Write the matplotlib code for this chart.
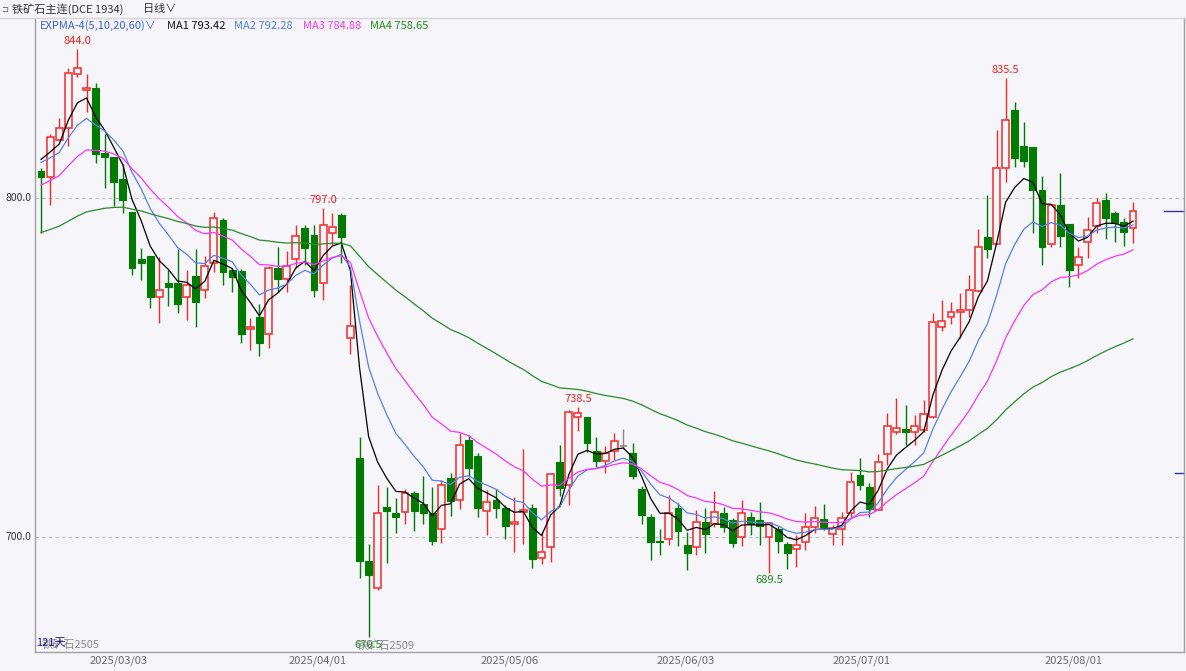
import numpy as np
import matplotlib
matplotlib.use("Agg")
import matplotlib.pyplot as plt

plt.rcParams['font.family'] = ['Noto Sans CJK SC', 'DejaVu Sans']

# daily bars, oldest first
opens = [808.0, 806.3, 817.1, 820.6, 836.5, 831.9, 832.4, 813.4, 812.2, 805.5,
         796.0, 782.0, 782.9, 770.7, 774.8, 774.8, 770.9, 777.0, 772.9, 780.9,
         793.5, 778.8, 778.6, 761.5, 765.0, 759.9, 779.3, 776.0, 781.9, 791.1,
         789.1, 774.8, 789.8, 795.0, 758.6, 723.4, 692.9, 684.9, 708.8, 707.2,
         707.5, 712.9, 709.9, 707.0, 702.3, 717.3, 710.9, 728.6, 723.9, 707.8,
         710.9, 708.6, 703.8, 707.5, 708.7, 693.7, 697.0, 722.0, 715.3, 735.5,
         735.5, 725.4, 722.4, 725.4, 727.0, 724.9, 714.1, 706.0, 698.9, 699.4,
         708.5, 697.8, 697.1, 704.5, 703.8, 707.0, 705.0, 700.0, 705.8, 705.0,
         700.0, 702.3, 697.9, 696.5, 698.6, 702.9, 705.3, 700.9, 702.3, 707.0,
         718.3, 714.8, 708.0, 724.5, 730.9, 731.8, 730.9, 731.6, 735.5, 761.9,
         765.0, 766.3, 767.0, 772.7, 788.6, 786.4, 808.8, 826.0, 815.3, 815.0,
         802.4, 786.4, 797.9, 792.3, 780.1, 786.9, 791.8, 799.4, 795.5, 793.0,
         791.1]
highs = [808.8, 818.9, 823.5, 838.3, 844.0, 836.5, 834.0, 818.9, 812.2, 810.0,
         796.0, 785.2, 782.9, 782.5, 778.8, 784.9, 778.8, 784.9, 782.9, 796.0,
         794.0, 779.3, 779.0, 764.5, 768.7, 780.0, 785.5, 784.5, 792.0, 792.0,
         792.0, 797.0, 795.7, 795.5, 774.3, 729.4, 697.9, 715.5, 714.8, 711.4,
         714.1, 713.7, 718.0, 714.7, 716.8, 718.8, 730.8, 730.1, 724.7, 713.9,
         714.1, 709.4, 711.9, 725.9, 709.9, 701.6, 718.8, 727.1, 737.5, 738.5,
         735.5, 729.4, 726.8, 730.8, 731.9, 727.8, 715.0, 706.8, 702.3, 712.4,
         710.0, 701.6, 708.0, 708.5, 713.6, 708.8, 705.5, 710.9, 707.5, 710.4,
         704.2, 703.2, 698.5, 700.6, 707.0, 709.2, 709.9, 703.7, 707.5, 719.3,
         723.2, 716.0, 724.5, 736.5, 740.9, 738.9, 736.0, 740.4, 766.0, 770.0,
         769.4, 771.9, 777.3, 790.9, 800.9, 820.1, 835.5, 828.4, 822.5, 815.0,
         806.5, 797.9, 807.3, 792.3, 785.6, 794.5, 800.1, 801.6, 796.3, 794.0,
         798.9]
lows = [789.8, 797.9, 817.1, 815.3, 835.6, 825.5, 810.4, 802.9, 797.7, 795.5,
        777.3, 775.8, 767.5, 763.0, 768.1, 766.0, 764.0, 762.0, 770.4, 778.3,
        774.4, 772.4, 757.3, 755.2, 753.4, 755.7, 772.4, 772.4, 779.3, 780.2,
        770.7, 769.9, 786.1, 780.9, 754.0, 688.0, 670.5, 684.4, 692.4, 701.3,
        703.8, 701.9, 704.0, 697.8, 698.3, 706.2, 708.2, 717.8, 705.8, 700.6,
        705.5, 699.3, 695.7, 698.1, 690.8, 692.0, 692.7, 712.1, 709.6, 731.4,
        725.2, 720.6, 719.0, 722.7, 725.9, 717.0, 703.8, 693.2, 694.7, 697.6,
        697.3, 690.3, 694.7, 695.2, 702.9, 701.6, 697.0, 697.3, 700.6, 697.6,
        689.5, 695.4, 690.5, 691.2, 696.3, 701.1, 702.1, 697.6, 697.6, 705.5,
        713.9, 706.0, 708.0, 721.2, 730.5, 727.1, 727.3, 731.0, 735.0, 760.8,
        762.8, 758.6, 765.0, 772.4, 782.2, 786.4, 804.8, 809.2, 809.1, 789.8,
        780.2, 785.6, 785.6, 773.8, 776.3, 782.2, 789.6, 787.8, 787.1, 785.8,
        786.8]
closes = [806.3, 817.9, 820.6, 837.0, 838.4, 832.4, 812.9, 812.0, 804.8, 799.4,
          779.3, 780.9, 770.7, 772.9, 773.8, 768.7, 774.4, 769.4, 779.9, 794.0,
          778.3, 776.6, 759.9, 762.1, 757.3, 779.3, 776.0, 779.9, 788.9, 785.3,
          772.9, 792.0, 791.4, 788.6, 762.2, 692.9, 688.8, 707.0, 707.8, 705.8,
          712.9, 707.8, 707.0, 698.9, 715.5, 710.7, 727.3, 720.4, 708.6, 710.4,
          708.7, 703.3, 704.3, 708.0, 693.4, 695.7, 718.5, 714.4, 737.0, 736.5,
          727.8, 722.4, 724.9, 728.4, 727.0, 718.0, 706.5, 698.4, 698.4, 707.0,
          701.9, 695.4, 704.5, 700.9, 707.5, 702.9, 698.3, 707.0, 703.8, 703.2,
          704.2, 698.9, 695.4, 697.8, 702.9, 705.7, 702.9, 702.6, 705.5, 716.3,
          715.5, 708.2, 722.2, 732.8, 732.2, 730.9, 732.8, 736.2, 763.3, 763.8,
          766.3, 767.0, 772.9, 785.5, 784.9, 808.8, 823.0, 811.9, 811.0, 802.4,
          785.6, 797.9, 788.8, 778.8, 782.7, 790.6, 798.4, 794.2, 792.5, 789.9,
          796.3]

date_labels = ['2025/03/03', '2025/04/01', '2025/05/06', '2025/06/03', '2025/07/01', '2025/08/01']
date_pos = [8.5, 30.4, 51.5, 70.8, 90.2, 113.5]

# EXPMA(5,10,20,60); first value of each line
ema_periods = [5, 10, 20, 60]
ema_start = [811.4, 810.5, 803.8, 789.8]
ema_names = ['MA1', 'MA2', 'MA3', 'MA4']
ema_values = ['793.42', '792.28', '784.88', '758.65']
ema_colors = ['#000000', '#5581e8', '#ff33ff', '#2a8a2a']
legend_colors = ['#111111', '#4f7de0', '#ff33ff', '#1f8a1f']

# marked extremes: (bar index, price, text, colour, above?)
extremes = [(4, 844.0, '844.0', '#ee2222', True),
            (31, 797.0, '797.0', '#ee2222', True),
            (59, 738.5, '738.5', '#ee2222', True),
            (106, 835.5, '835.5', '#ee2222', True),
            (80, 689.5, '689.5', '#1d8a1d', False),
            (36, 670.5, '670.5', '#1d8a1d', False)]

right_marks = [796.3, 718.8]

BG = '#f5f5fa'
UP = '#f22a2a'
DOWN = '#007a00'

W, H = 1186, 671
fig = plt.figure(figsize=(W / 100, H / 100), dpi=100, facecolor=BG)
ax = fig.add_axes([35 / W, 19 / H, (1184 - 35) / W, (652 - 18) / H], facecolor=BG)

n = len(closes)
x = np.arange(n)
o = np.array(opens)
c = np.array(closes)
hi = np.array(highs)
lo = np.array(lows)

for i in range(n):
    if c[i] > o[i]:
        col = UP
    elif c[i] < o[i]:
        col = DOWN
    else:
        col = '#888888'
    ax.vlines(x[i], lo[i], hi[i], color=col, lw=1.0, zorder=2)
    bot = min(o[i], c[i])
    h = max(abs(c[i] - o[i]), 0.25)
    if c[i] > o[i]:
        ax.bar(x[i], h, bottom=bot, width=0.76, facecolor=BG, edgecolor=col, lw=1.1, zorder=3)
    elif c[i] < o[i]:
        ax.bar(x[i], h, bottom=bot, width=0.76, facecolor=col, edgecolor=col, lw=0.8, zorder=3)
    else:
        ax.hlines(o[i], x[i] - 0.38, x[i] + 0.38, color=col, lw=1.2, zorder=3)

# EXPMA lines
for p, s, col in zip(ema_periods, ema_start, ema_colors):
    a = 2.0 / (p + 1)
    e = [s]
    for v in c[1:]:
        e.append(e[-1] + a * (v - e[-1]))
    ax.plot(x, e, color=col, lw=0.9, zorder=4)

for lvl in (800, 700):
    ax.axhline(lvl, color='#bbbbbb', lw=0.8, ls=(0, (3, 3)), zorder=1)
    ax.text(-0.003, lvl, f'{lvl:.1f}', transform=ax.get_yaxis_transform(),
            ha='right', va='center', fontsize=7.5, color='#333333', clip_on=False)

for i, p, t, col, above in extremes:
    if above:
        ax.annotate(t, (i, p), xytext=(0, 2), textcoords='offset points',
                    ha='center', va='bottom', fontsize=8, color=col, zorder=6)
    else:
        ax.annotate(t, (i, p), xytext=(0, -2), textcoords='offset points',
                    ha='center', va='top', fontsize=8, color=col, zorder=6,
                    annotation_clip=False)

for k, p in enumerate(right_marks):
    x0 = 0.983 if k == 0 else 0.992
    ax.plot([x0, 1.0], [p, p], transform=ax.get_yaxis_transform(), color='#3636a8', lw=1.0, clip_on=False)

ax.plot([date_pos[-1] + 14.5] * 2, [0.0, 0.014], transform=ax.get_xaxis_transform(),
        color='#777777', lw=0.8)

ax.set_xlim(-0.66, 125.6)
ax.set_ylim(666.1, 853.1)
ax.set_xticks([])
ax.set_yticks([])
for side in ['left', 'bottom', 'right']:
    ax.spines[side].set_color('#a0a0a0')
    ax.spines[side].set_linewidth(1.0)
ax.spines['top'].set_visible(False)

for pos, lab in zip(date_pos, date_labels):
    ax.text(pos, -0.014, lab, transform=ax.get_xaxis_transform(), ha='center', va='center',
            fontsize=8, color='#6a6a6a', clip_on=False)


def px(xp, yp):
    return xp / W, 1 - yp / H


# header
fig.add_artist(plt.Line2D([0, 1], [1 - 17.5 / H] * 2, color='#d6d6d6', lw=1.0))
fig.text(*px(12, 9), '铁矿石主连(DCE 1934)', fontsize=8, color='#333333', va='center')
fig.text(*px(143, 9), '日线∨', fontsize=8, color='#333333', va='center')
fig.text(*px(1, 9), '⊐', fontsize=6, color='#555555', va='center')

# indicator legend
fig.text(*px(40, 26), 'EXPMA-4(5,10,20,60)∨', fontsize=8, color='#3d63d8', va='center')
leg_x = [167, 234, 303, 370]
for lx, nm, val, col in zip(leg_x, ema_names, ema_values, legend_colors):
    fig.text(*px(lx, 26), f'{nm} {val}', fontsize=8, color=col, va='center')

# bottom-left captions (they overlap in the original too)
fig.text(*px(42, 645), '铁矿石2505', fontsize=8, color='#8a8a8a', va='center')
fig.text(*px(36, 643), '121天', fontsize=8, color='#1a1a90', va='center')
fig.text(*px(357, 646), '铁矿石2509', fontsize=8, color='#8a8a8a', va='center')

fig.savefig('out.png', dpi=100, facecolor=BG)
